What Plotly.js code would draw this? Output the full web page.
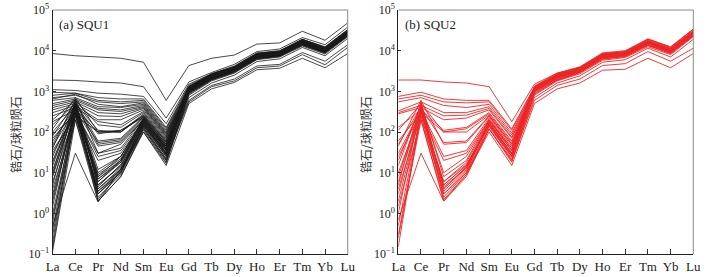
<!DOCTYPE html>
<html>
<head>
<meta charset="utf-8">
<script src="https://cdn.plot.ly/plotly-3.0.1.min.js"></script>
<style>html,body{margin:0;padding:0;background:#fff}#chart{width:720px;height:277px}</style>
</head>
<body>
<div id="chart"></div>
<script>
const elements = ["La","Ce","Pr","Nd","Sm","Eu","Gd","Tb","Dy","Ho","Er","Tm","Yb","Lu"];
const yTickVals = [0.1, 1, 10, 100, 1000, 10000, 100000];
const yTickText = ["10<sup>−1</sup>","10<sup>0</sup>","10<sup>1</sup>","10<sup>2</sup>","10<sup>3</sup>","10<sup>4</sup>","10<sup>5</sup>"];
const yTitle = "锆石/球粒陨石";
const panelLabels = ["(a) SQU1", "(b) SQU2"];

// SQU1 zircon chondrite-normalized REE (La..Lu), one row per analysis
const squ1 = [
  [8500,7500,7000,6500,5200,600,4300,6500,7800,14500,15500,30000,18000,48000],
  [1900,1850,1700,1600,1300,220,1700,2900,4600,9500,11000,21000,14000,38000],
  [1100,1050,900,850,750,160,1500,2700,4200,8800,10000,19000,12500,33000],
  [950,900,700,650,650,130,1400,2600,4000,8500,9500,18000,12000,31000],
  [800,900,600,550,600,120,1300,2500,3800,8000,9000,17000,11000,29000],
  [700,800,550,500,550,110,1250,2400,3700,7800,8800,16500,10500,28000],
  [650,850,480,420,520,100,1200,2300,3600,7500,8500,16000,10000,27000],
  [600,700,420,400,480,95,1150,2200,3500,7300,8200,15500,9800,26000],
  [500,650,380,350,450,90,1100,2100,3400,7000,8000,15000,9500,25000],
  [450,600,350,320,420,85,1050,2000,3300,6800,7800,14500,9200,24000],
  [400,550,300,280,400,80,1000,1950,3200,6600,7600,14000,9000,23000],
  [350,500,250,240,380,75,1100,2100,3300,7000,8000,15000,9500,25000],
  [300,450,200,200,350,70,1200,2400,3600,7600,8700,16500,10500,28000],
  [250,400,180,150,320,65,1300,2600,3800,8000,9200,17500,11000,30000],
  [200,600,150,130,300,60,1250,2500,3700,7800,9000,17000,10800,29000],
  [150,500,110,100,280,55,1150,2300,3500,7400,8400,16000,10200,27000],
  [120,700,100,100,260,60,1000,2100,3200,6800,7800,15000,9500,25000],
  [100,450,90,110,250,50,900,1900,3000,6400,7400,14000,9000,24000],
  [80,550,60,70,240,45,1100,2200,3400,7200,8200,15500,9800,26000],
  [60,400,55,65,230,50,1300,2600,3900,8200,9400,18000,11500,31000],
  [50,500,50,60,220,40,1200,2500,3700,7800,9000,17000,10800,29000],
  [45,350,45,55,200,45,1000,2200,3300,7000,8000,15000,9500,26000],
  [40,650,30,40,210,38,950,2000,3100,6600,7600,14500,9200,24500],
  [30,300,25,35,190,35,1150,2400,3600,7600,8700,16500,10500,28000],
  [20,400,10,25,180,30,1050,2200,3300,7000,8000,15000,9500,26000],
  [15,500,8,20,170,40,1250,2600,3900,8200,9400,18000,11500,31000],
  [12,350,7,18,160,28,900,2000,3000,6400,7400,14000,9000,24000],
  [10,600,6,20,220,45,1300,2700,4000,8500,9700,19000,12000,32000],
  [8,450,5,15,150,25,1100,2300,3500,7400,8500,16000,10200,27000],
  [6,300,4,12,140,35,1000,2100,3200,6800,7800,15000,9500,25000],
  [5,550,4.5,16,200,40,1200,2500,3700,7800,9000,17000,10800,29000],
  [4,250,3.5,10,130,22,850,1900,2900,6200,7200,13500,8700,23000],
  [3,400,3,12,170,30,1150,2400,3600,7600,8800,16500,10500,28000],
  [2,350,2.5,9,120,20,700,1600,2500,5400,6300,12000,7500,20000],
  [1.5,500,2.2,11,180,35,1300,2700,4000,8500,9800,19000,12000,32000],
  [1,300,2,8,110,18,950,2100,3200,6800,7800,15000,9500,25000],
  [0.8,200,3,10,140,25,600,1400,2000,4200,4600,9000,5500,14000],
  [0.6,450,5,14,160,30,1000,2200,3400,7200,8300,16000,10000,27000],
  [0.5,30,1.9,12,100,15,500,1150,1650,3400,3700,6500,3800,8500],
  [0.4,350,6,18,150,28,1100,2300,3500,7400,8500,16000,10200,27000],
  [0.3,250,4,13,130,22,550,1300,1800,3800,4200,8000,4500,12000],
  [0.2,400,8,25,200,40,1200,2500,3700,7800,9000,17000,10800,29000],
  [0.15,300,3.5,12,120,20,900,2000,3100,6600,7600,14500,9200,24000],
  [0.12,200,2,8,100,17,800,1800,2800,6000,7000,13000,8300,22000],
  [70,300,30,50,200,45,1100,2300,3400,7200,8200,15500,9800,26000],
  [35,250,20,30,180,35,1000,2100,3200,6800,7800,14800,9400,25000],
  [25,500,12,25,210,40,1250,2500,3700,7900,9000,17000,10900,29000],
  [18,350,9,22,170,32,1150,2400,3600,7600,8700,16500,10500,28000],
  [9,400,7,20,190,38,1200,2500,3700,7800,8900,17000,10800,29000],
  [2.5,300,3,10,150,26,1050,2200,3300,7000,8000,15200,9700,26000],
  [180,350,100,100,250,55,1150,2400,3500,7400,8500,16000,10200,27000],
  [90,250,100,110,230,50,1050,2200,3300,7000,8000,15000,9600,25500]
];

// SQU2 zircon chondrite-normalized REE (La..Lu)
const squ2 = [
  [1900,1900,1700,1600,1300,180,1500,2800,3800,8500,9500,19000,12000,34000],
  [750,950,650,600,600,120,1300,2600,3600,8000,9000,17000,11000,30000],
  [650,800,550,520,550,110,1250,2500,3500,7800,8800,16500,10500,29000],
  [550,700,450,400,480,95,1200,2400,3400,7500,8500,16000,10200,28000],
  [330,550,300,300,420,85,1150,2300,3300,7200,8200,15500,9800,27000],
  [300,450,250,260,380,75,1100,2200,3200,7000,8000,15000,9500,26000],
  [280,400,200,220,350,70,1050,2100,3100,6800,7800,14500,9200,25000],
  [130,350,110,130,300,60,1000,2000,3000,6600,7600,14000,9000,24000],
  [110,500,100,120,280,55,1250,2500,3600,7800,9000,17000,11000,30000],
  [60,300,100,100,260,50,950,1900,2900,6400,7400,13500,8700,23000],
  [50,400,55,60,250,50,1150,2300,3400,7400,8500,16000,10200,28000],
  [45,600,50,55,240,45,1300,2700,3900,8400,9500,19000,12000,33000],
  [30,350,25,35,220,40,1000,2100,3100,6800,7800,15000,9500,26000],
  [20,450,10,25,200,35,1200,2400,3500,7600,8600,16500,10500,29000],
  [15,500,8,20,200,40,1350,2800,4000,8800,10000,19500,12500,34000],
  [10,300,6,18,180,30,1050,2200,3300,7200,8200,15500,9800,27000],
  [8,400,5,15,160,28,1100,2300,3400,7400,8400,16000,10000,28000],
  [5,550,4,14,190,35,1250,2600,3800,8200,9300,18000,11500,31000],
  [4,250,3.5,12,150,25,900,1900,2900,6200,7200,13500,8500,23000],
  [3,400,3,11,170,30,1150,2400,3500,7600,8600,16500,10500,29000],
  [2,350,2.5,10,140,22,800,1800,2700,5800,6800,12500,8000,22000],
  [1.5,200,2,8,120,20,600,1400,2000,4300,4800,9500,5500,11500],
  [1,450,4,13,160,28,1000,2100,3200,6800,7800,15000,9500,26000],
  [0.7,30,2,9,100,15,500,1150,1600,3300,3500,6500,3800,8500],
  [0.5,300,6,16,140,25,1100,2300,3400,7400,8400,16000,10200,28000],
  [0.3,250,3,10,120,18,700,1600,2400,5200,6000,11500,7000,19000],
  [0.15,350,5,15,150,25,1200,2500,3700,8000,9000,17500,11000,30000],
  [25,300,20,30,200,35,1050,2200,3300,7100,8100,15500,9800,27000],
  [6,350,4.5,13,170,30,1150,2400,3500,7500,8500,16200,10300,28500],
  [0.25,200,2.2,9,120,20,850,1900,2900,6200,7200,13800,8700,24000]
];

const traces = [];
squ1.forEach(row => traces.push({
  x: elements, y: row, type: 'scatter', mode: 'lines', xaxis: 'x', yaxis: 'y',
  line: {color: '#1a1a1a', width: 0.8}, showlegend: false, hoverinfo: 'skip'
}));
squ2.forEach(row => traces.push({
  x: elements, y: row, type: 'scatter', mode: 'lines', xaxis: 'x2', yaxis: 'y2',
  line: {color: 'rgb(236,38,38)', width: 0.9}, showlegend: false, hoverinfo: 'skip'
}));

const serif = '"Liberation Serif", "Times New Roman", serif';
const xTickFont = {family: serif, size: 13, color: '#222'};
const yTickFont = {family: serif, size: 12, color: '#222'};
const yDom = [1 - 254/277, 1 - 10/277];
function xAx(dom, anchor) {
  return {
    domain: dom, anchor: anchor, type: 'category', range: [0, 13],
    showline: true, linecolor: '#222', linewidth: 1, mirror: false,
    ticks: 'inside', ticklen: 5, tickcolor: '#333', tickwidth: 1,
    showgrid: false, zeroline: false, tickfont: xTickFont, fixedrange: true
  };
}
function yAx(anchor) {
  return {
    domain: yDom, anchor: anchor, type: 'log', range: [-1, 5],
    tickvals: yTickVals, ticktext: yTickText,
    showline: true, linecolor: '#222', linewidth: 1, mirror: false,
    ticks: 'inside', ticklen: 3, tickcolor: '#333',
    showgrid: false, zeroline: false, tickfont: yTickFont, fixedrange: true
  };
}

const dom1 = [52.7/720, 347.7/720];
const dom2 = [398.3/720, 693.3/720];

const layout = {
  width: 720, height: 277,
  margin: {l: 0, r: 0, t: 0, b: 0},
  paper_bgcolor: '#fff', plot_bgcolor: '#fff',
  showlegend: false,
  xaxis: xAx(dom1, 'y'),
  yaxis: yAx('x'),
  xaxis2: xAx(dom2, 'y2'),
  yaxis2: yAx('x2'),
  shapes: [
    {type: 'line', xref: 'x domain', yref: 'y domain', x0: 0, x1: 1, y0: 1, y1: 1, line: {color: '#8a8a8a', width: 1}},
    {type: 'line', xref: 'x domain', yref: 'y domain', x0: 1, x1: 1, y0: 0, y1: 1, line: {color: '#8a8a8a', width: 1}},
    {type: 'line', xref: 'x2 domain', yref: 'y2 domain', x0: 0, x1: 1, y0: 1, y1: 1, line: {color: '#8a8a8a', width: 1}},
    {type: 'line', xref: 'x2 domain', yref: 'y2 domain', x0: 1, x1: 1, y0: 0, y1: 1, line: {color: '#8a8a8a', width: 1}}
  ],
  annotations: [
    {text: panelLabels[0], xref: 'paper', yref: 'paper', x: 57/720, y: 1 - 24/277, xanchor: 'left', yanchor: 'middle', showarrow: false,
     font: {family: serif, size: 13, color: '#222'}},
    {text: panelLabels[1], xref: 'paper', yref: 'paper', x: 403/720, y: 1 - 24/277, xanchor: 'left', yanchor: 'middle', showarrow: false,
     font: {family: serif, size: 13, color: '#222'}},
    {text: yTitle, xref: 'paper', yref: 'paper', x: 15/720, y: 1 - 135/277, xanchor: 'center', yanchor: 'middle', showarrow: false, textangle: -90,
     font: {family: '"Noto Sans CJK SC", sans-serif', size: 12, color: '#333'}},
    {text: yTitle, xref: 'paper', yref: 'paper', x: 365/720, y: 1 - 135/277, xanchor: 'center', yanchor: 'middle', showarrow: false, textangle: -90,
     font: {family: '"Noto Sans CJK SC", sans-serif', size: 12, color: '#333'}}
  ]
};

Plotly.newPlot('chart', traces, layout, {staticPlot: true, displayModeBar: false});
</script>
</body>
</html>
